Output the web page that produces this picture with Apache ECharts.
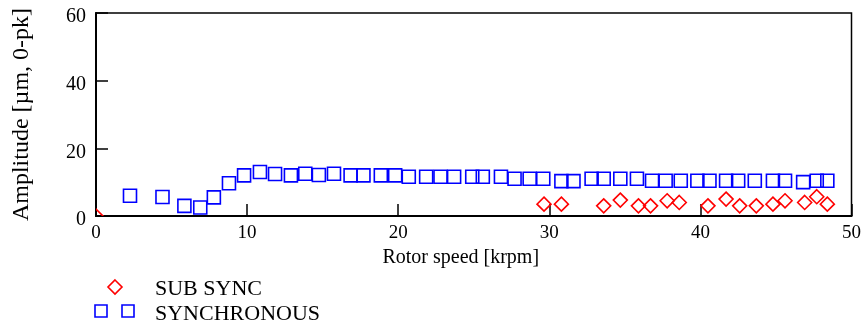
<!DOCTYPE html>
<html>
<head>
<meta charset="utf-8">
<script src="https://cdn.jsdelivr.net/npm/echarts@6/dist/echarts.min.js"></script>
<style>
  html, body { margin: 0; padding: 0; background: #fff; }
  #chart { width: 864px; height: 328px; }
</style>
</head>
<body>
<div id="chart"></div>
<script>
// rotor speed [krpm], amplitude [um 0-pk]
const syncSpeed = [2.25, 4.4, 5.85, 6.9, 7.8, 8.8, 9.8, 10.85, 11.85, 12.9, 13.85, 14.75, 15.75, 16.85, 17.7, 18.85, 19.8, 20.7, 21.85, 22.8, 23.7, 24.9, 25.6, 26.8, 27.7, 28.7, 29.6, 30.8, 31.6, 32.8, 33.6, 34.7, 35.8, 36.8, 37.7, 38.7, 39.8, 40.6, 41.7, 42.5, 43.6, 44.8, 45.6, 46.8, 47.7, 48.4];
const syncAmp = [6.0, 5.6, 3.0, 2.5, 5.5, 9.7, 12.0, 13.0, 12.4, 12.0, 12.5, 12.1, 12.5, 12.0, 12.0, 12.0, 12.0, 11.6, 11.6, 11.6, 11.6, 11.6, 11.6, 11.6, 11.0, 11.0, 11.0, 10.3, 10.3, 11.0, 11.0, 11.0, 11.0, 10.4, 10.4, 10.4, 10.4, 10.4, 10.4, 10.4, 10.4, 10.4, 10.4, 10.0, 10.4, 10.4];

const subSpeed = [0, 29.65, 30.8, 33.6, 34.7, 35.9, 36.7, 37.8, 38.6, 40.5, 41.7, 42.6, 43.7, 44.8, 45.6, 46.9, 47.7, 48.4];
const subAmp = [0, 3.5, 3.5, 3.0, 4.7, 3.0, 3.0, 4.5, 4.0, 3.0, 5.0, 3.0, 3.0, 3.5, 4.5, 4.0, 5.7, 3.5];

const legendNames = ['SUB SYNC', 'SYNCHRONOUS'];

const font = '"Liberation Serif", "DejaVu Serif", serif';
const chart = echarts.init(document.getElementById('chart'));

chart.setOption({
  animation: false,
  textStyle: { fontFamily: font },
  grid: {
    left: 96, right: 12, top: 13, bottom: 112,
    show: true, borderColor: '#000', borderWidth: 1.5, backgroundColor: 'transparent'
  },
  xAxis: {
    type: 'value', min: 0, max: 50, interval: 10,
    name: 'Rotor speed [krpm]', nameLocation: 'middle', nameGap: 31,
    nameTextStyle: { color: '#000', fontSize: 20, fontFamily: font, padding: [0, 26, 0, 0] },
    axisLine: { lineStyle: { color: '#000', width: 2 } },
    axisTick: { inside: true, length: 12, lineStyle: { color: '#000', width: 1.5 } },
    axisLabel: { color: '#000', fontSize: 19, fontFamily: font, margin: 8 },
    splitLine: { show: false }
  },
  yAxis: {
    type: 'value', min: 0, max: 60, interval: 20,
    name: 'Amplitude [µm, 0-pk]', nameLocation: 'middle', nameGap: 62,
    nameTextStyle: { color: '#000', fontSize: 24, fontFamily: font },
    axisLine: { lineStyle: { color: '#000', width: 2 } },
    axisTick: { inside: true, length: 12, lineStyle: { color: '#000', width: 1.5 } },
    axisLabel: { color: '#000', fontSize: 20, fontFamily: font, margin: 10, verticalAlign: 'top', lineHeight: 8 },
    splitLine: { show: false }
  },
  series: [
    {
      name: legendNames[1], type: 'scatter', clip: true,
      symbol: 'rect', symbolSize: 13,
      itemStyle: { color: 'rgba(255,255,255,0)', borderColor: '#0000ff', borderWidth: 1.6, opacity: 1 },
      data: syncSpeed.map((x, i) => [x, syncAmp[i]])
    },
    {
      name: legendNames[0], type: 'custom', clip: true,
      renderItem: function (params, api) {
        const p = api.coord([api.value(0), api.value(1)]);
        const r = 7;
        return {
          type: 'polygon',
          shape: { points: [[p[0], p[1] - r], [p[0] + r, p[1]], [p[0], p[1] + r], [p[0] - r, p[1]]] },
          style: { fill: 'none', stroke: '#ff0000', lineWidth: 1.6 }
        };
      },
      encode: { x: 0, y: 1 },
      data: subSpeed.map((x, i) => [x, subAmp[i]])
    }
  ],
  graphic: [
    { type: 'polygon', shape: { points: [[115, 280], [122, 287], [115, 294], [108, 287]] },
      style: { fill: 'none', stroke: '#ff0000', lineWidth: 1.6 } },
    { type: 'text', left: 155, top: 278, style: { text: legendNames[0], font: '22px ' + font, fill: '#000' } },
    { type: 'rect', shape: { x: 95, y: 305, width: 12, height: 12 },
      style: { fill: 'none', stroke: '#0000ff', lineWidth: 1.6 } },
    { type: 'rect', shape: { x: 122, y: 305, width: 12, height: 12 },
      style: { fill: 'none', stroke: '#0000ff', lineWidth: 1.6 } },
    { type: 'text', left: 155, top: 303, style: { text: legendNames[1], font: '22px ' + font, fill: '#000' } }
  ]
});
</script>
</body>
</html>
